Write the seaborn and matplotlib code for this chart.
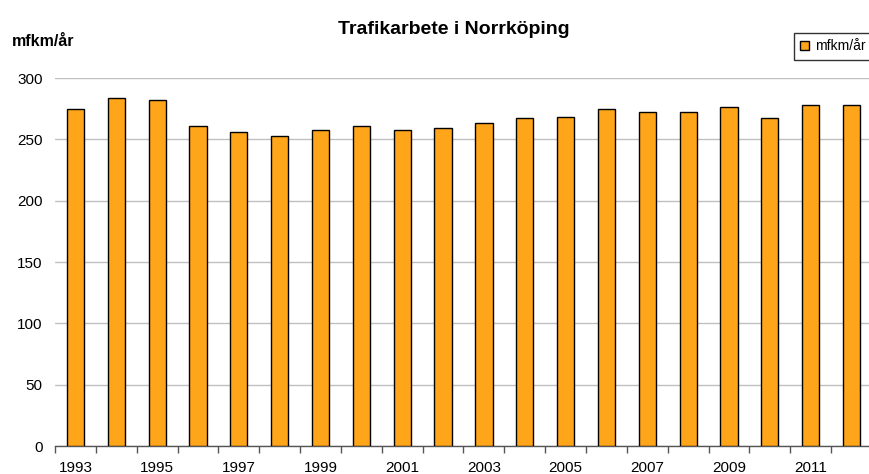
import matplotlib
matplotlib.use("Agg")
import matplotlib.pyplot as plt
import seaborn as sns
import pandas as pd
from matplotlib.patches import Patch

years = list(range(1993, 2013))
values = [275, 284, 282, 261, 256, 253, 258, 261, 258, 259,
          263, 267, 268, 275, 272, 272, 276, 267, 278, 278]
series_name = "mfkm/år"
title = "Trafikarbete i Norrköping"
ylabel = "mfkm/år"
yticks = [0, 50, 100, 150, 200, 250, 300]

df = pd.DataFrame({"year": [str(y) for y in years], "value": values})

sns.set_theme(style="white")
plt.rcParams['font.family'] = ['Liberation Sans', 'DejaVu Sans']
plt.rcParams['text.color'] = 'black'
plt.rcParams['xtick.color'] = 'black'
plt.rcParams['ytick.color'] = 'black'

W, H = 870, 474
fig = plt.figure(figsize=(W / 100, H / 100), dpi=100)
ax = fig.add_axes([55 / W, 1 - 446 / H, (872 - 55) / W, (446 - 78) / H])

bar_color = "#FFA51A"
sns.barplot(data=df, x="year", y="value", color=bar_color, width=0.42,
            edgecolor="black", linewidth=1, saturation=1, ax=ax, zorder=3)

ax.set_ylim(0, 300)
ax.set_xlim(-0.5, len(years) - 0.5)
ax.set_yticks(yticks)
ax.set_yticklabels([str(t) for t in yticks], fontsize=11, color="black")
ax.yaxis.grid(True, color="#C0C0C0", linewidth=1, zorder=0)
ax.set_axisbelow(True)
ax.tick_params(axis="y", length=0, pad=9)

ax.set_xticks(range(0, len(years), 2))
ax.set_xticklabels([str(years[i]) for i in range(0, len(years), 2)], fontsize=11, color="black")
ax.set_xticks([i - 0.5 for i in range(len(years) + 1)], minor=True)
ax.tick_params(axis="x", which="major", length=0, pad=11)
ax.tick_params(axis="x", which="minor", length=5, width=1, color="#555555", direction="out", bottom=True)

for s in ["top", "right", "left"]:
    ax.spines[s].set_visible(False)
ax.spines["bottom"].set_color("#555555")
ax.spines["bottom"].set_linewidth(1)
ax.set_xlabel("")
ax.set_ylabel("")

fig.text(454 / W, 1 - 30 / H, title, ha="center", va="center", fontsize=14, fontweight="bold", color="black")
fig.text(12 / W, 1 - 42 / H, ylabel, ha="left", va="center", fontsize=11.5, fontweight="bold", color="black")

handle = Patch(facecolor=bar_color, edgecolor="black", linewidth=1)
leg = fig.legend([handle], [series_name], loc="upper left",
                 bbox_to_anchor=(794 / W, 1 - 33 / H), fontsize=10,
                 frameon=True, fancybox=False, handlelength=0.6, handleheight=0.6,
                 handletextpad=0.5, borderpad=0.45, borderaxespad=0)
leg.get_frame().set_edgecolor("black")
leg.get_frame().set_linewidth(1)

fig.savefig("out.png", dpi=100)
